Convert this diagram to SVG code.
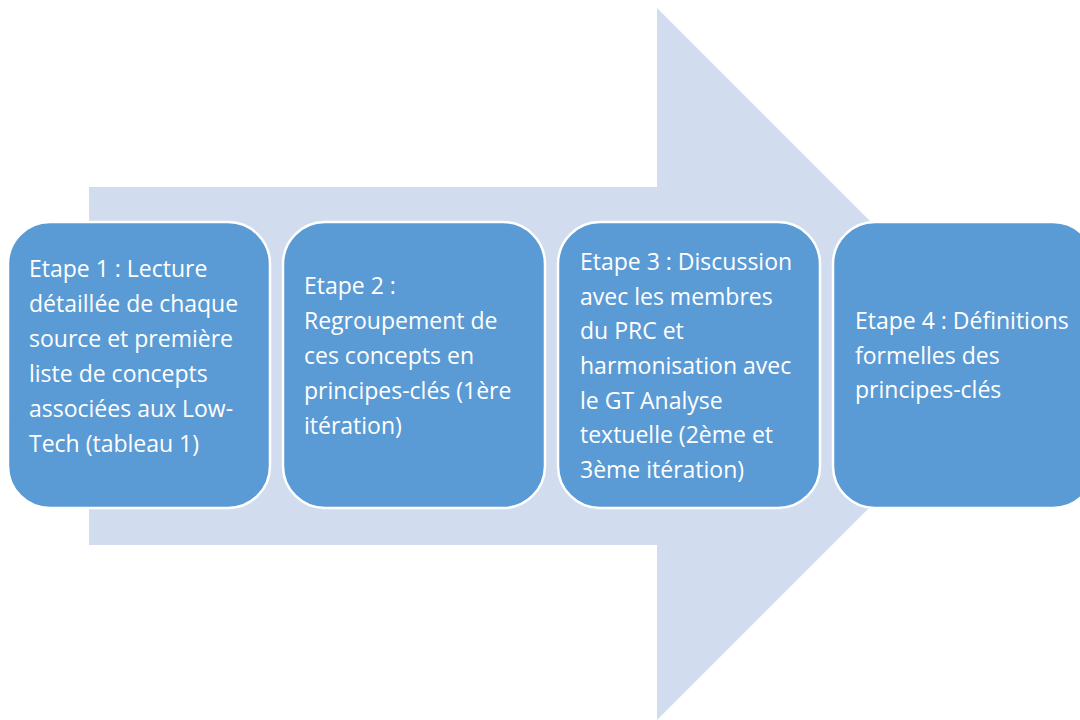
<svg xmlns="http://www.w3.org/2000/svg" width="1080" height="720" viewBox="0 0 1080 720">
<style>
.box{fill:#5B9BD5;stroke:#FFFFFF;stroke-width:2.5}
.t{font-family:"Open Sans","Liberation Sans",Arial,sans-serif;font-size:23px;fill:#FFFFFF}
</style>
<rect width="1080" height="720" fill="#FFFFFF"/>
<g id="arrow">
<polygon points="89,187 657,187 657,8 1013,364 657,720 657,545 89,545" fill="#D1DDEE"/>
</g>
<g id="connectors"></g>
<g id="node1">
<rect class="box" x="8" y="222" width="262" height="286" rx="42"/>
<text class="t" x="29" y="277">Etape 1 : Lecture</text>
<text class="t" x="29" y="312">détaillée de chaque</text>
<text class="t" x="29" y="347">source et première</text>
<text class="t" x="29" y="382">liste de concepts</text>
<text class="t" x="29" y="417">associées aux Low-</text>
<text class="t" x="29" y="452">Tech (tableau 1)</text>
</g>
<g id="node2">
<rect class="box" x="283" y="222" width="262" height="286" rx="42"/>
<text class="t" x="304" y="294">Etape 2 :</text>
<text class="t" x="304" y="329">Regroupement de</text>
<text class="t" x="304" y="364">ces concepts en</text>
<text class="t" x="304" y="399">principes-clés (1ère</text>
<text class="t" x="304" y="434">itération)</text>
</g>
<g id="node3">
<rect class="box" x="558" y="222" width="262" height="286" rx="42"/>
<text class="t" x="580" y="270">Etape 3 : Discussion</text>
<text class="t" x="580" y="305">avec les membres</text>
<text class="t" x="580" y="339">du PRC et</text>
<text class="t" x="580" y="374">harmonisation avec</text>
<text class="t" x="580" y="409">le GT Analyse</text>
<text class="t" x="580" y="443">textuelle (2ème et</text>
<text class="t" x="580" y="478">3ème itération)</text>
</g>
<g id="node4">
<rect class="box" x="833" y="222" width="262" height="286" rx="42"/>
<text class="t" x="855" y="329">Etape 4 : Définitions</text>
<text class="t" x="855" y="364">formelles des</text>
<text class="t" x="855" y="398">principes-clés</text>
</g>
</svg>
